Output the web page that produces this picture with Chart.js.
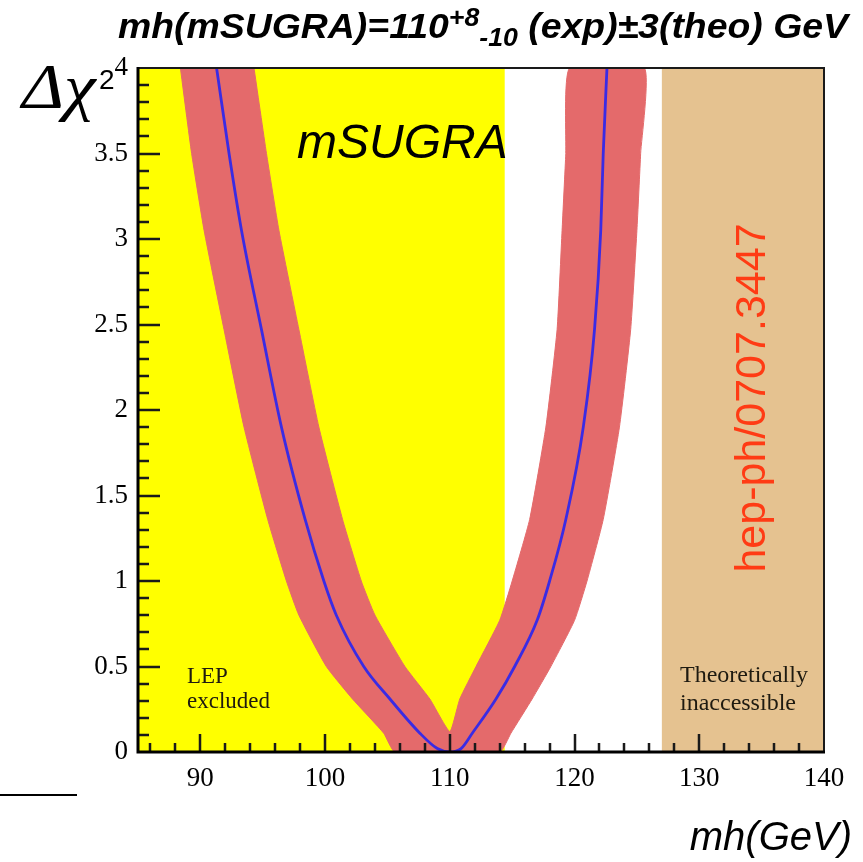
<!DOCTYPE html>
<html>
<head>
<meta charset="utf-8">
<script src="https://cdn.jsdelivr.net/npm/chart.js@4.4.1/dist/chart.umd.min.js"></script>
<style>
  html, body { margin: 0; padding: 0; background: #fff; }
  #chart { display: block; }
</style>
</head>
<body>
<canvas id="chart" width="863" height="862"></canvas>
<script>
// ── Axis ranges & tick labels ─────────────────────────────────────
const xRange = [85, 140];
const yRange = [0, 4];
const xTickValues = [90, 100, 110, 120, 130, 140];
const yTickValues = [0, 0.5, 1, 1.5, 2, 2.5, 3, 3.5, 4];

// ── Shaded regions (mh, GeV) ──────────────────────────────────────
const lepExcluded      = [85, 114.4];
const theoInaccessible = [127, 140];

// ── Central Δχ² curve (blue) ──────────────────────────────────────
const centralMh  = [91.3, 92.3, 93.3, 94.9, 96.5, 98.4, 99.9, 100.9, 103.1, 105.2, 107.6, 109.0, 110.0,
                    110.9, 111.8, 113.7, 115.2, 117.0, 118.0, 119.3, 120.7, 121.6, 122.1, 122.3, 122.6];
const centralChi = [4, 3.5, 3.05, 2.47, 1.9, 1.36, 1.0, 0.8, 0.5, 0.31, 0.11, 0.02, 0,
                    0.02, 0.11, 0.31, 0.5, 0.77, 1.0, 1.36, 1.9, 2.47, 3.05, 3.5, 4];

// ── Theory band outline (red), walked round as one polygon ────────
// outer left (down), bottom, outer right (up), inner right (down), inner left (up)
const bandMh  = [88.4, 89.3, 90.3, 91.9, 93.5, 95.4, 96.9, 97.9, 100.1, 102.2, 104.7, 105.6,
                 114.0,
                 114.9, 116.6, 118.1, 120.0, 121.0, 122.3, 123.6, 124.5, 125.0, 125.3, 125.6,
                 119.6, 119.3, 119.0, 118.6, 117.7, 116.4, 115.0, 114.0, 112.1, 110.8, 110.0,
                 108.4, 106.4, 104.0, 102.9, 101.4, 99.5, 97.9, 96.3, 95.3, 94.3];
const bandChi = [4, 3.5, 3.05, 2.47, 1.9, 1.36, 1.0, 0.8, 0.5, 0.31, 0.11, 0,
                 0,
                 0.11, 0.31, 0.5, 0.77, 1.0, 1.36, 1.9, 2.47, 3.05, 3.5, 4,
                 4, 3.5, 3.05, 2.47, 1.9, 1.36, 1.0, 0.77, 0.5, 0.31, 0.12,
                 0.31, 0.5, 0.8, 1.0, 1.36, 1.9, 2.47, 3.05, 3.5, 4];

const YELLOW = "#ffff00";
const TAN    = "#e5c290";
const RED    = "#e46a6b";
const BLUE   = "#3a2be4";
const SERIF  = "'Liberation Serif', 'DejaVu Serif', serif";
const SANS   = "'Liberation Sans', Arial, sans-serif";

const zip = (xs, ys) => xs.map((v, i) => ({ x: v, y: ys[i] }));

// ── Plugins ───────────────────────────────────────────────────────
const regions = {
  id: "regions",
  beforeDatasetsDraw(chart) {
    const { ctx, chartArea: a, scales: { x } } = chart;
    ctx.save();
    const paint = (r, col) => {
      const x0 = x.getPixelForValue(r[0]);
      const x1 = x.getPixelForValue(r[1]);
      ctx.fillStyle = col;
      ctx.fillRect(x0, a.top, x1 - x0, a.bottom - a.top);
    };
    paint(lepExcluded, YELLOW);
    paint(theoInaccessible, TAN);
    ctx.restore();
  },
};

const frame = {
  id: "frame",
  afterDatasetsDraw(chart) {
    const { ctx, chartArea: a, scales: { x, y } } = chart;
    ctx.save();
    ctx.strokeStyle = "#1a1a1a";
    ctx.lineCap = "butt";

    // ticks pointing inward
    ctx.lineWidth = 2.5;
    ctx.beginPath();
    for (let v = 86; v < 140; v += 2) {
      const px = Math.round(x.getPixelForValue(v));
      const len = v % 10 === 0 ? 18 : 9;
      ctx.moveTo(px, a.bottom);
      ctx.lineTo(px, a.bottom - len);
    }
    for (let i = 1; i < 40; i++) {
      const py = Math.round(y.getPixelForValue(i / 10));
      const len = i % 5 === 0 ? 22 : 11;
      ctx.moveTo(a.left, py);
      ctx.lineTo(a.left + len, py);
    }
    ctx.stroke();

    // top / right frame
    ctx.lineWidth = 2;
    ctx.beginPath();
    ctx.moveTo(a.left, a.top);
    ctx.lineTo(a.right, a.top);
    ctx.lineTo(a.right, a.bottom);
    ctx.stroke();

    // left / bottom axes
    ctx.lineWidth = 3;
    ctx.strokeStyle = "#000";
    ctx.beginPath();
    ctx.moveTo(a.left, a.top - 1);
    ctx.lineTo(a.left, a.bottom);
    ctx.lineTo(a.right + 1, a.bottom);
    ctx.stroke();
    ctx.restore();
  },
};

const annotations = {
  id: "annotations",
  afterDraw(chart) {
    const { ctx } = chart;
    ctx.save();
    ctx.fillStyle = "#000";
    ctx.textBaseline = "alphabetic";

    // title with super/subscript, squeezed to the reference width
    const big = "italic bold 35px " + SANS;
    const small = "italic bold 25px " + SANS;
    const parts = [
      { t: "mh(mSUGRA)=110", f: big, dy: 0 },
      { t: "+8", f: small, dy: -12 },
      { t: "-10", f: small, dy: 8 },
      { t: " (exp)\u00b13(theo) GeV", f: big, dy: 0 },
    ];
    let total = 0;
    parts.forEach(p => { ctx.font = p.f; p.w = ctx.measureText(p.t).width; total += p.w; });
    const tx0 = 118, tx1 = 848, base = 38;
    const sx = (tx1 - tx0) / total;
    ctx.save();
    ctx.translate(tx0, base);
    ctx.scale(sx, 1);
    let cx = 0;
    parts.forEach(p => { ctx.font = p.f; ctx.fillText(p.t, cx, p.dy); cx += p.w; });
    ctx.restore();

    // Δχ² axis title
    ctx.font = "italic 64px " + SERIF;
    const dw = ctx.measureText("\u0394\u03c7").width;
    ctx.save();
    ctx.translate(22, 108);
    ctx.scale(Math.min(1.12, 76 / dw), 1);
    ctx.fillText("\u0394\u03c7", 0, 0);
    ctx.restore();
    ctx.font = "28px " + SANS;
    ctx.fillText("2", 99, 89);

    // mh(GeV) axis title
    ctx.font = "italic 40px " + SANS;
    ctx.textAlign = "right";
    ctx.fillText("mh(GeV)", 852, 850);

    // mSUGRA
    ctx.textAlign = "left";
    ctx.font = "italic 48px " + SANS;
    ctx.fillText("mSUGRA", 297, 158);

    // region labels
    ctx.fillStyle = "#1e1a10";
    ctx.font = "23px " + SERIF;
    ctx.fillText("LEP", 187, 683);
    ctx.fillText("excluded", 187, 708);
    ctx.font = "24px " + SERIF;
    ctx.fillText("Theoretically", 680, 682);
    ctx.fillText("inaccessible", 680, 710);

    // arXiv reference, rotated
    ctx.save();
    ctx.translate(765, 398);
    ctx.rotate(-Math.PI / 2);
    ctx.fillStyle = "#ff3b14";
    ctx.font = "43px " + SANS;
    ctx.textAlign = "center";
    ctx.fillText("hep-ph/0707.3447", 0, 0);
    ctx.restore();

    // stray rule at lower left
    ctx.strokeStyle = "#000";
    ctx.lineWidth = 2;
    ctx.beginPath();
    ctx.moveTo(0, 795);
    ctx.lineTo(77, 795);
    ctx.stroke();
    ctx.restore();
  },
};

// ── Chart ─────────────────────────────────────────────────────────
new Chart(document.getElementById("chart"), {
  type: "scatter",
  data: {
    datasets: [
      {
        label: "central",
        data: zip(centralMh, centralChi),
        order: 0,
        showLine: true,
        fill: false,
        borderColor: BLUE,
        borderWidth: 2.8,
        pointRadius: 0,
        cubicInterpolationMode: "monotone",
      },
      {
        label: "theory band",
        data: zip(bandMh, bandChi),
        order: 1,
        showLine: true,
        fill: "shape",
        backgroundColor: RED,
        borderColor: RED,
        borderWidth: 1,
        pointRadius: 0,
        tension: 0.15,
      },
    ],
  },
  options: {
    responsive: false,
    animation: false,
    layout: { padding: { left: 78, top: 68, right: 39, bottom: 70 } },
    plugins: { legend: { display: false }, tooltip: { enabled: false } },
    scales: {
      x: {
        type: "linear",
        min: xRange[0],
        max: xRange[1],
        afterBuildTicks: s => { s.ticks = xTickValues.map(v => ({ value: v })); },
        afterFit: s => { s.height = 40; },
        grid: { display: false, drawTicks: false },
        border: { display: false },
        ticks: { color: "#000", font: { family: SERIF, size: 27 }, padding: 11 },
      },
      y: {
        type: "linear",
        min: yRange[0],
        max: yRange[1],
        afterBuildTicks: s => { s.ticks = yTickValues.map(v => ({ value: v })); },
        afterFit: s => { s.width = 60; },
        grid: { display: false, drawTicks: false },
        border: { display: false },
        ticks: { color: "#000", font: { family: SERIF, size: 27 }, padding: 10, callback: v => String(v) },
      },
    },
  },
  plugins: [regions, frame, annotations],
});
</script>
</body>
</html>
